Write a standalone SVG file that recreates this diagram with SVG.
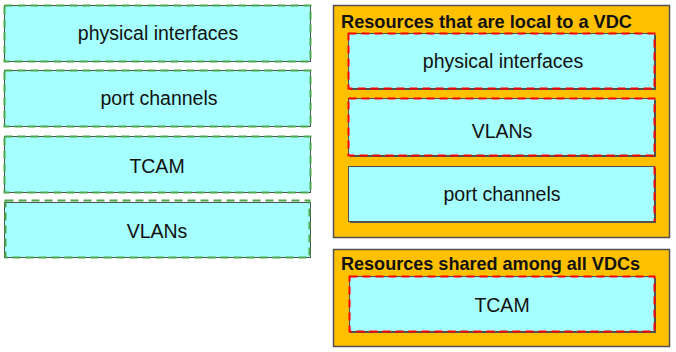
<svg xmlns="http://www.w3.org/2000/svg" width="676" height="352" viewBox="0 0 676 352">
<style>
.box{fill:#A6FFFF;stroke:#505050;stroke-width:1}
.shadow{fill:#505050}
.gd{fill:none;stroke:#4CA84C;stroke-width:2;stroke-dasharray:8 5}
.rd{fill:none;stroke:#FF0000;stroke-width:2;stroke-dasharray:8 5}
.cont{fill:#FFC000;stroke:#505050;stroke-width:1.5}
.lbl{font-family:"Liberation Sans",Arial,sans-serif;font-size:19.5px;fill:#111;text-anchor:middle;dominant-baseline:central}
.ttl{font-family:"Liberation Sans",Arial,sans-serif;font-size:19px;font-weight:bold;fill:#111}
</style>
<rect width="676" height="352" fill="#FFFFFF"/>
<g id="left-physical-interfaces">
<rect class="box" x="4.5" y="5.5" width="306" height="56"/>
<rect class="gd" x="4.5" y="5.5" width="306" height="56"/>
<text class="lbl" x="158" y="33">physical interfaces</text>
</g>
<g id="left-port-channels">
<rect class="box" x="4.5" y="70.5" width="306" height="56"/>
<rect class="gd" x="4.5" y="70.5" width="306" height="56"/>
<text class="lbl" x="159" y="98">port channels</text>
</g>
<g id="left-tcam">
<rect class="box" x="4.5" y="136.5" width="306" height="56"/>
<rect class="gd" x="4.5" y="136.5" width="306" height="56"/>
<text class="lbl" x="157" y="166">TCAM</text>
</g>
<g id="left-vlans">
<rect class="box" x="4.5" y="202.5" width="306" height="55"/>
<rect class="gd" x="5.5" y="200.5" width="304" height="57"/>
<text class="lbl" x="157" y="231">VLANs</text>
</g>
<g id="local-resources">
<rect class="cont" x="333.5" y="5.5" width="336" height="232"/>
<text class="ttl" x="341" y="28" textLength="291" lengthAdjust="spacingAndGlyphs">Resources that are local to a VDC</text>
</g>
<g id="right-physical-interfaces">
<rect class="shadow" x="350" y="35" width="306" height="55"/>
<rect class="box" x="348.5" y="33.5" width="306" height="55"/>
<rect class="rd" x="348.5" y="33.5" width="306" height="55"/>
<text class="lbl" x="503" y="61">physical interfaces</text>
</g>
<g id="right-vlans">
<rect class="shadow" x="350" y="100" width="306" height="57"/>
<rect class="box" x="348.5" y="98.5" width="306" height="57"/>
<rect class="rd" x="348.5" y="98.5" width="306" height="57"/>
<text class="lbl" x="502" y="131">VLANs</text>
</g>
<g id="right-port-channels">
<rect class="shadow" x="350" y="168" width="306" height="55"/>
<rect class="box" x="348.5" y="166.5" width="306" height="55"/>
<path class="rd" d="M654.5 166.5 V221.5"/>
<text class="lbl" x="502" y="194">port channels</text>
</g>
<g id="shared-resources">
<rect class="cont" x="333.5" y="249.5" width="336" height="97"/>
<text class="ttl" x="341" y="270" textLength="299" lengthAdjust="spacingAndGlyphs">Resources shared among all VDCs</text>
</g>
<g id="right-tcam">
<rect class="shadow" x="350" y="278" width="306" height="55"/>
<rect class="box" x="349.5" y="276.5" width="305" height="55"/>
<rect class="rd" x="349.5" y="276.5" width="305" height="55"/>
<text class="lbl" x="502" y="305">TCAM</text>
</g>
<g id="connectors"></g>
</svg>
